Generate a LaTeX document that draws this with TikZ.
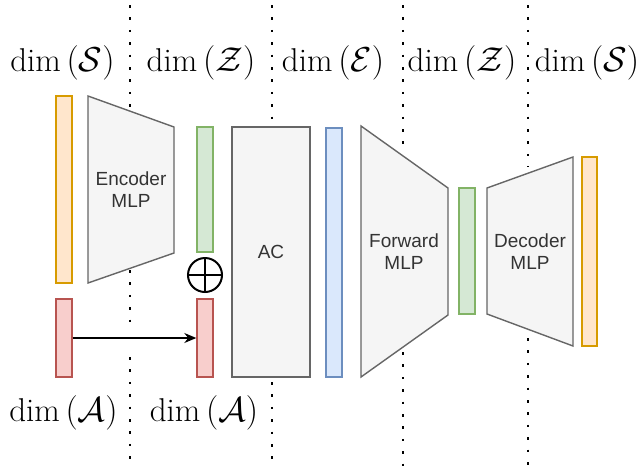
\documentclass[tikz,border=0pt]{standalone}
\usepackage{fontspec}
\newfontfamily\blocksans{Liberation Sans}
\usetikzlibrary{arrows.meta, positioning}

\definecolor{grayfill}{HTML}{F5F5F5}
\definecolor{graydraw}{HTML}{666666}
\definecolor{orangefill}{HTML}{FFE6CC}
\definecolor{orangedraw}{HTML}{D79B00}
\definecolor{greenfill}{HTML}{D5E8D4}
\definecolor{greendraw}{HTML}{82B366}
\definecolor{redfill}{HTML}{F8CECC}
\definecolor{reddraw}{HTML}{B85450}
\definecolor{bluefill}{HTML}{DAE8FC}
\definecolor{bluedraw}{HTML}{6C8EBF}
\definecolor{blocktext}{HTML}{333333}

\begin{document}
\begin{tikzpicture}[
	x=0.5pt, y=-0.5pt,
	bar/.style={rectangle, draw, line width=0.7pt, minimum width=8pt, inner sep=0pt},
	sbar/.style={bar, fill=orangefill, draw=orangedraw},
	zbar/.style={bar, fill=greenfill, draw=greendraw},
	abar/.style={bar, fill=redfill, draw=reddraw},
	ebar/.style={bar, fill=bluefill, draw=bluedraw},
	block/.style={fill=grayfill, draw=graydraw, line width=0.7pt},
	blocklabel/.style={align=center, text=blocktext, font=\blocksans\fontsize{9.5}{11}\selectfont},
	dimlabel/.style={font=\fontsize{16.5}{19}\selectfont, inner sep=0pt},
	sep/.style={line width=1.3pt, dash pattern=on 1.3pt off 4.9pt},
	conn/.style={line width=0.6pt, -{Stealth[length=6pt, width=5pt]}},
]
	\useasboundingbox (0,0) rectangle (642,467);

	% separators between dimensions
	\draw[sep] (130,5) -- (130,108);
	\draw[sep] (130,270) -- (130,322);
	\draw[sep] (130,357) -- (130,467);
	\draw[sep] (272,5) -- (272,120);
	\draw[sep] (272,382) -- (272,467);
	\draw[sep] (403,5) -- (403,145);
	\draw[sep] (403,352) -- (403,467);
	\draw[sep] (528,5) -- (528,167);
	\draw[sep] (528,338) -- (528,467);

	% dimension labels
	\node[dimlabel] (dimS) at (62.5,63) {$\dim\left(\mathcal{S}\right)$};
	\node[dimlabel] (dimZ) at (201,63) {$\dim\left(\mathcal{Z}\right)$};
	\node[dimlabel] (dimE) at (333,63) {$\dim\left(\mathcal{E}\right)$};
	\node[dimlabel] (dimZout) at (462,63) {$\dim\left(\mathcal{Z}\right)$};
	\node[dimlabel] (dimSout) at (587,63) {$\dim\left(\mathcal{S}\right)$};
	\node[dimlabel] (dimA) at (63.5,413) {$\dim\left(\mathcal{A}\right)$};
	\node[dimlabel] (dimAin) at (204,413) {$\dim\left(\mathcal{A}\right)$};

	% encoder
	\node[sbar, minimum height=93.5pt] (state) at (64,189.5) {};
	\draw[block] (88,96) -- (174,127) -- (174,253) -- (88,283) -- cycle;
	\node[blocklabel] (enc) at (131,190) {Encoder\\MLP};
	\node[zbar, minimum height=62.5pt] (latent) at (205,189.5) {};

	% action
	\node[abar, minimum height=39pt] (action) at (64,338) {};
	\node[abar, minimum height=39pt] (actioncp) at (205,338) {};
	\draw[conn] (action.east) -- (actioncp.west);
	\node[circle, draw, line width=1pt, minimum size=17pt, inner sep=0pt] (plus) at (205,275) {};
	\draw[line width=1pt] (plus.north) -- (plus.south);
	\draw[line width=1pt] (plus.west) -- (plus.east);

	% AC
	\node[rectangle, block, minimum width=39pt, minimum height=125pt, inner sep=0pt] (ac) at (271,252) {};
	\node[blocklabel] at (ac.center) {AC};
	\node[ebar, minimum height=124.5pt] (embed) at (334,252.5) {};

	% forward
	\draw[block] (361,126) -- (448,188) -- (448,315) -- (361,377) -- cycle;
	\node[blocklabel] (fwd) at (404,252) {Forward\\MLP};
	\node[zbar, minimum height=63pt] (latentnext) at (467,251) {};

	% decoder
	\draw[block] (487,188) -- (573,157) -- (573,346) -- (487,314) -- cycle;
	\node[blocklabel] (dec) at (530,252) {Decoder\\MLP};
	\node[sbar, minimum width=7.5pt, minimum height=94.5pt] (statenext) at (589.5,251.5) {};
\end{tikzpicture}
\end{document}
